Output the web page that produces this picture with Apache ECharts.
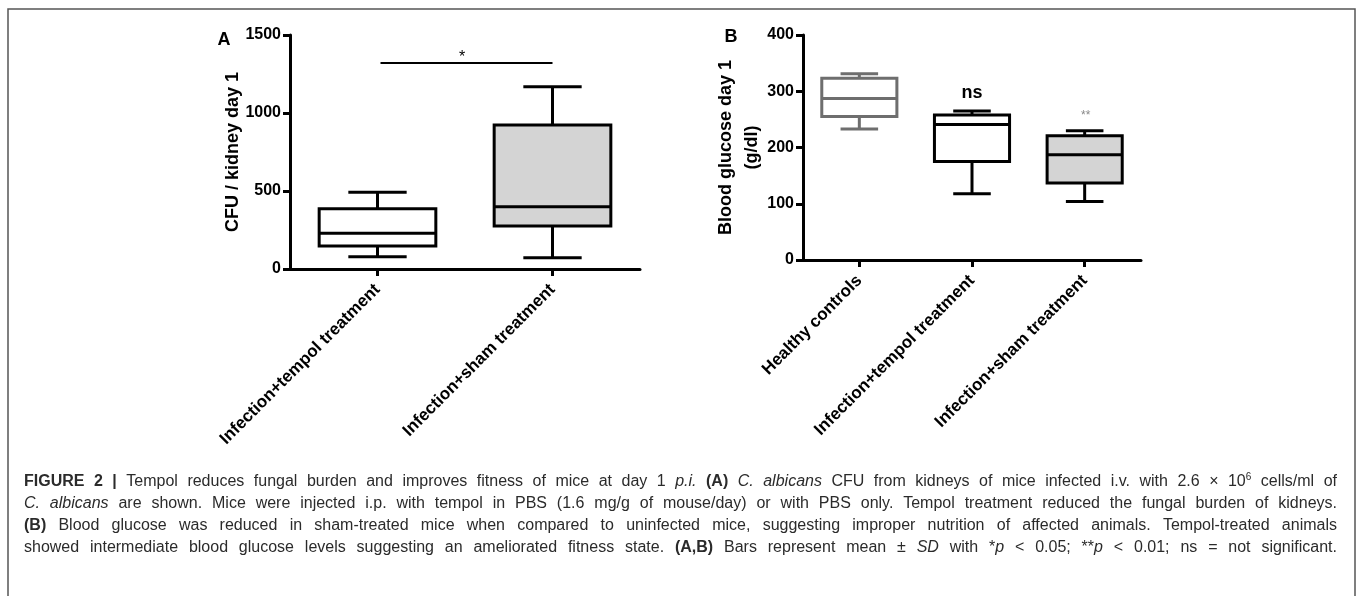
<!DOCTYPE html>
<html>
<head>
<meta charset="utf-8">
<script src="https://cdn.jsdelivr.net/npm/echarts@6/dist/echarts.min.js"></script>
<style>
  html, body { margin: 0; padding: 0; background: #fff; }
  #chart { width: 1358px; height: 596px; }
</style>
</head>
<body>
<div id="chart"></div>
<script>
// panel A: CFU / kidney, [min, q1, median, q3, max]
const catsA = ['Infection+tempol treatment', 'Infection+sham treatment'];
const boxesA = [
    [79, 147, 229, 386, 492],
    [72, 276, 399, 923, 1169]
];
const yTicksA = [0, 500, 1000, 1500];
const sigA = [[0, 1, 1320]];
const sigAText = ['*'];

// panel B: blood glucose
const catsB = ['Healthy controls', 'Infection+tempol treatment', 'Infection+sham treatment'];
const boxesB = [
    [233, 255, 287, 323, 331],
    [118, 175, 241, 258, 265],
    [104, 137, 187, 221, 230]
];
const yTicksB = [0, 100, 200, 300, 400];
const marksB = [[1, 297], [2, 256]];
const marksBText = ['ns', '**'];

// caption runs: n normal, b bold, i italic, s superscript
const captionLines = [
    [['b', 'FIGURE 2 |'], ['n', ' Tempol reduces fungal burden and improves fitness of mice at day 1 '], ['i', 'p.i.'], ['n', ' '], ['b', '(A)'], ['n', ' '], ['i', 'C. albicans'], ['n', ' CFU from kidneys of mice infected i.v. with 2.6 × 10'], ['s', '6'], ['n', ' cells/ml of']],
    [['i', 'C. albicans'], ['n', ' are shown. Mice were injected i.p. with tempol in PBS (1.6 mg/g of mouse/day) or with PBS only. Tempol treatment reduced the fungal burden of kidneys.']],
    [['b', '(B)'], ['n', ' Blood glucose was reduced in sham-treated mice when compared to uninfected mice, suggesting improper nutrition of affected animals. Tempol-treated animals']],
    [['n', 'showed intermediate blood glucose levels suggesting an ameliorated fitness state. '], ['b', '(A,B)'], ['n', ' Bars represent mean ± '], ['i', 'SD'], ['n', ' with *'], ['i', 'p'], ['n', ' < 0.05; **'], ['i', 'p'], ['n', ' < 0.01; ns = not significant.']]
];

const FONT = 'Liberation Sans';
const CAP_FONT = 'Liberation Sans';
const mctx = document.createElement('canvas').getContext('2d');

document.addEventListener('DOMContentLoaded', () => {
    const chart = echarts.init(document.getElementById('chart'));

    const boxStrokeA = ['#000', '#000'];
    const boxFillA = ['#fff', '#d4d4d4'];
    const boxStrokeB = ['#6e6e6e', '#000', '#000'];
    const boxFillB = ['#fff', '#fff', '#d4d4d4'];

    const option = {
        animation: false,
        grid: [
            { left: 290, top: 35, width: 350, height: 234 },
            { left: 803, top: 35, width: 338, height: 225 }
        ],
        xAxis: [
            xAxisOf(0, catsA),
            xAxisOf(1, catsB)
        ],
        yAxis: [
            yAxisOf(0, yTicksA, 'CFU / kidney day 1', 44),
            yAxisOf(1, yTicksB, 'Blood glucose day 1\n(g/dl)', 38)
        ],
        series: [
            {
                type: 'custom',
                xAxisIndex: 0, yAxisIndex: 0,
                data: boxesA.map((b, i) => [i, ...b]),
                encode: { x: 0, y: [1, 2, 3, 4, 5] },
                renderItem: renderBox(boxStrokeA, boxFillA)
            },
            {
                type: 'custom',
                xAxisIndex: 1, yAxisIndex: 1,
                data: boxesB.map((b, i) => [i, ...b]),
                encode: { x: 0, y: [1, 2, 3, 4, 5] },
                renderItem: renderBox(boxStrokeB, boxFillB)
            },
            {
                type: 'custom',
                xAxisIndex: 0, yAxisIndex: 0,
                data: sigA,
                encode: { x: [0, 1], y: 2 },
                renderItem: function (params, api) {
                    const a = api.coord([api.value(0), api.value(2)]);
                    const b = api.coord([api.value(1), api.value(2)]);
                    return {
                        type: 'group',
                        children: [
                            { type: 'line', shape: { x1: a[0] + 3, y1: a[1], x2: b[0], y2: b[1] }, style: { stroke: '#000', lineWidth: 2 } },
                            {
                                type: 'text', x: (a[0] + b[0]) / 2 - 3, y: a[1] + 3,
                                style: { text: sigAText[params.dataIndex], fontSize: 16, fontFamily: FONT, fill: '#000', align: 'center', verticalAlign: 'bottom' }
                            }
                        ]
                    };
                }
            },
            {
                type: 'custom',
                xAxisIndex: 1, yAxisIndex: 1,
                data: marksB,
                encode: { x: 0, y: 1 },
                renderItem: function (params, api) {
                    const p = api.coord([api.value(0), api.value(1)]);
                    const ns = params.dataIndex === 0;
                    return {
                        type: 'text', x: p[0] + (ns ? 0 : 1), y: p[1],
                        style: {
                            text: marksBText[params.dataIndex],
                            fontSize: ns ? 18 : 12,
                            fontWeight: ns ? 'bold' : 'normal',
                            fontFamily: FONT,
                            fill: ns ? '#000' : '#888',
                            align: 'center', verticalAlign: 'middle'
                        }
                    };
                }
            }
        ],
        graphic: [
            {
                type: 'rect', shape: { x: 8, y: 9, width: 1347, height: 700 },
                style: { fill: 'none', stroke: '#555', lineWidth: 1.5 }, silent: true
            },
            { type: 'text', x: 224, y: 40, style: { text: 'A', fontSize: 18, fontWeight: 'bold', fontFamily: FONT, fill: '#000', align: 'center', verticalAlign: 'middle' } },
            { type: 'text', x: 731, y: 37, style: { text: 'B', fontSize: 18, fontWeight: 'bold', fontFamily: FONT, fill: '#000', align: 'center', verticalAlign: 'middle' } },
            ...buildCaption(24, 1337, [482, 504, 526, 548])
        ]
    };

    chart.setOption(option);
});

function xAxisOf(idx, cats) {
    return {
        type: 'category',
        gridIndex: idx,
        data: cats,
        axisLine: { show: true, lineStyle: { color: '#000', width: 3 } },
        axisTick: { show: true, alignWithLabel: true, length: 7, lineStyle: { color: '#000', width: 3 } },
        axisLabel: { rotate: 45, margin: 18, fontSize: 17, fontWeight: 'bold', fontFamily: FONT, color: '#000', interval: 0 },
        splitLine: { show: false }
    };
}

function yAxisOf(idx, ticks, name, gap) {
    return {
        type: 'value',
        gridIndex: idx,
        min: ticks[0],
        max: ticks[ticks.length - 1],
        interval: ticks[1] - ticks[0],
        name: name,
        nameLocation: 'middle',
        nameGap: gap,
        nameMoveOverlap: false,
        nameTextStyle: { fontSize: 18, fontWeight: 'bold', fontFamily: FONT, color: '#000', lineHeight: 26 },
        axisLine: { show: true, lineStyle: { color: '#000', width: 3 } },
        axisTick: { show: true, length: 7, lineStyle: { color: '#000', width: 3 } },
        axisLabel: { margin: 9, fontSize: 16, fontWeight: 'bold', fontFamily: FONT, color: '#000', formatter: v => String(v) },
        splitLine: { show: false }
    };
}

function renderBox(strokes, fills) {
    return function (params, api) {
        const i = api.value(0);
        const band = api.size([1, 0])[0];
        const bw = band * 2 / 3;
        const cap = bw / 4;
        const y = [1, 2, 3, 4, 5].map(k => api.coord([i, api.value(k)])[1]);
        const cx = api.coord([i, 0])[0];
        const st = { stroke: strokes[params.dataIndex], lineWidth: 3 };
        return {
            type: 'group',
            children: [
                { type: 'line', shape: { x1: cx, y1: y[0], x2: cx, y2: y[1] }, style: st },
                { type: 'line', shape: { x1: cx, y1: y[3], x2: cx, y2: y[4] }, style: st },
                { type: 'line', shape: { x1: cx - cap, y1: y[0], x2: cx + cap, y2: y[0] }, style: st },
                { type: 'line', shape: { x1: cx - cap, y1: y[4], x2: cx + cap, y2: y[4] }, style: st },
                { type: 'rect', shape: { x: cx - bw / 2, y: y[3], width: bw, height: y[1] - y[3] }, style: Object.assign({}, st, { fill: fills[params.dataIndex] }) },
                { type: 'line', shape: { x1: cx - bw / 2, y1: y[2], x2: cx + bw / 2, y2: y[2] }, style: st }
            ]
        };
    };
}

// justified caption, one text element per styled run
function buildCaption(x0, x1, ys) {
    const styleOf = (s, size) => ({
        fontStyle: s === 'i' ? 'italic' : 'normal',
        fontWeight: s === 'b' ? 'bold' : 'normal',
        fontSize: s === 's' ? Math.round(size * 0.65) : size
    });
    const measure = (t, s, size) => {
        const st = styleOf(s, size);
        mctx.font = `${st.fontStyle} ${st.fontWeight} ${st.fontSize}px ${CAP_FONT}`;
        return mctx.measureText(t).width;
    };

    const lines = captionLines.map(runs => {
        const words = [[]];
        runs.forEach(([s, t]) => {
            t.split(' ').forEach((part, k) => {
                if (k > 0) words.push([]);
                if (part) words[words.length - 1].push([s, part]);
            });
        });
        return words.filter(w => w.length);
    });

    let size = 15;
    const spaceW = measure(' ', 'n', size);
    const natural = lines.map(ws => ws.reduce((a, w) => a + w.reduce((b, [s, t]) => b + measure(t, s, size), 0), 0) + spaceW * (ws.length - 1));
    const maxNat = Math.max(...natural);
    size = Math.min(16, size * (x1 - x0) / maxNat * 0.995);

    const out = [];
    lines.forEach((ws, li) => {
        const widths = ws.map(w => w.reduce((b, [s, t]) => b + measure(t, s, size), 0));
        const total = widths.reduce((a, b) => a + b, 0);
        const gap = (x1 - x0 - total) / (ws.length - 1);
        let x = x0;
        ws.forEach((w, wi) => {
            let rx = x;
            w.forEach(([s, t]) => {
                const st = styleOf(s, size);
                out.push({
                    type: 'text', x: rx, y: ys[li] + (s === 's' ? -5 : 0), silent: true,
                    style: {
                        text: t, fill: '#2b2b2b', fontFamily: CAP_FONT,
                        fontSize: st.fontSize, fontWeight: st.fontWeight, fontStyle: st.fontStyle,
                        align: 'left', verticalAlign: 'middle'
                    }
                });
                rx += measure(t, s, size);
            });
            x += widths[wi] + gap;
        });
    });
    return out;
}
</script>
</body>
</html>
